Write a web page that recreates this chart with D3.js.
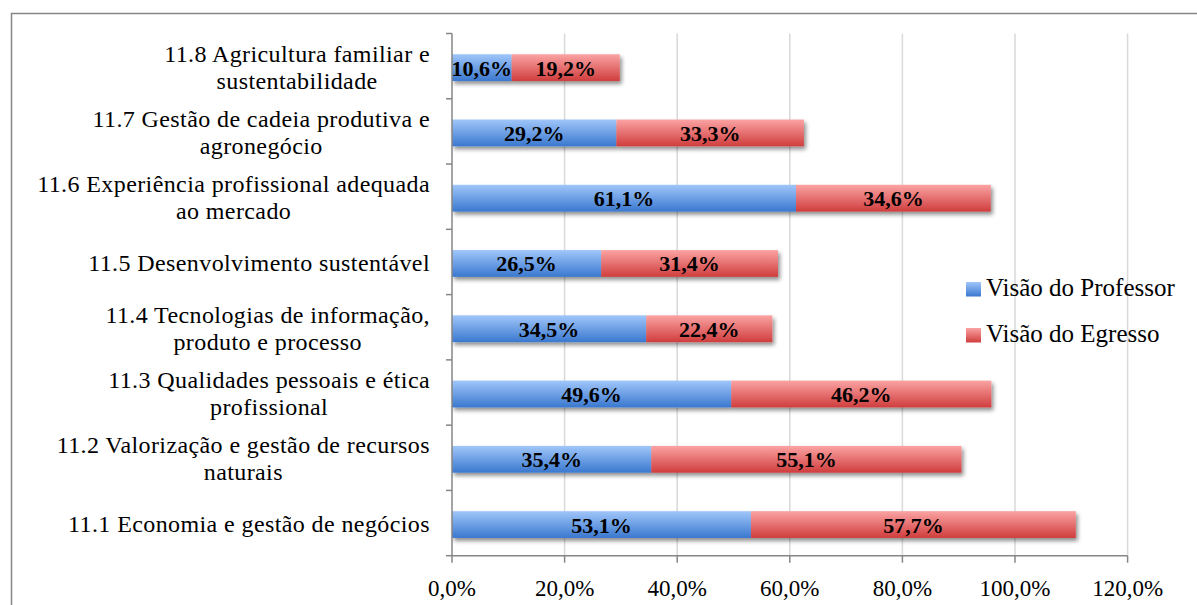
<!DOCTYPE html>
<html>
<head>
<meta charset="utf-8">
<script src="https://cdn.jsdelivr.net/npm/d3@7"></script>
<style>
  body { margin: 0; background: #fff; }
  text { font-family: "Liberation Serif", "Times New Roman", serif; fill: #000; }
  .cat-label { font-size: 24px; letter-spacing: 0.4px; }
  .val-label { font-size: 22px; font-weight: bold; }
  .tick-label { font-size: 23px; }
  .legend-label { font-size: 25px; }
</style>
</head>
<body>
<svg id="chart" width="1197" height="605"></svg>
<script>
var categories = [
  ['11.8 Agricultura familiar e', 'sustentabilidade'],
  ['11.7 Gestão de cadeia produtiva e', 'agronegócio'],
  ['11.6 Experiência profissional adequada', 'ao mercado'],
  ['11.5 Desenvolvimento sustentável'],
  ['11.4 Tecnologias de informação,', 'produto e processo'],
  ['11.3 Qualidades pessoais e ética', 'profissional'],
  ['11.2 Valorização e gestão de recursos', 'naturais'],
  ['11.1 Economia e gestão de negócios']
];
var professor = [10.6, 29.2, 61.1, 26.5, 34.5, 49.6, 35.4, 53.1];
var egresso = [19.2, 33.3, 34.6, 31.4, 22.4, 46.2, 55.1, 57.7];
var series_names = ['Visão do Professor', 'Visão do Egresso'];
var x_ticks = [0, 20, 40, 60, 80, 100, 120];

var margin = {top: 33.5, left: 452},
    plot_w = 1127.6 - 452,
    plot_h = 555.7 - 33.5;

var svg = d3.select('#chart');

// outer frame
svg.append('rect')
  .attr('x', 11.5).attr('y', 13.5)
  .attr('width', 1200).attr('height', 620)
  .attr('fill', 'none').attr('stroke', '#868686').attr('stroke-width', 1.5);

var defs = svg.append('defs');
function make_grad(id, top, bottom) {
  var gr = defs.append('linearGradient').attr('id', id)
    .attr('x1', 0).attr('y1', 0).attr('x2', 0).attr('y2', 1);
  gr.append('stop').attr('offset', '0%').attr('stop-color', top);
  gr.append('stop').attr('offset', '100%').attr('stop-color', bottom);
}
make_grad('g-blue', '#a0c6fa', '#3a78cf');
make_grad('g-red', '#fba3a3', '#d03d3d');

var shadow = defs.append('filter').attr('id', 'shadow')
  .attr('x', '-5%').attr('y', '-30%').attr('width', '115%').attr('height', '180%');
shadow.append('feGaussianBlur').attr('in', 'SourceAlpha').attr('stdDeviation', 2).attr('result', 'blur');
shadow.append('feOffset').attr('in', 'blur').attr('dx', 2).attr('dy', 3).attr('result', 'off');
shadow.append('feComponentTransfer').attr('in', 'off').attr('result', 'soft')
  .append('feFuncA').attr('type', 'linear').attr('slope', 0.45);
var merge = shadow.append('feMerge');
merge.append('feMergeNode').attr('in', 'soft');
merge.append('feMergeNode').attr('in', 'SourceGraphic');

var g = svg.append('g').attr('transform', 'translate(' + margin.left + ',' + margin.top + ')');

var x = d3.scaleLinear().domain([0, 120]).range([0, plot_w]);
var y = d3.scaleBand().domain(d3.range(categories.length)).range([0, plot_h]).paddingInner(0.59).paddingOuter(0.295);

// gridlines
g.selectAll('.grid').data(x_ticks.slice(1))
  .enter().append('line')
  .attr('x1', function(d) { return x(d); }).attr('x2', function(d) { return x(d); })
  .attr('y1', 0).attr('y2', plot_h)
  .attr('stroke', '#d9d9d9').attr('stroke-width', 1.5);

// bars
var rows = categories.map(function(c, i) { return {i: i, p: professor[i], e: egresso[i]}; });
var bar_g = g.selectAll('.bar').data(rows).enter().append('g')
  .attr('class', 'bar')
  .attr('filter', 'url(#shadow)');

bar_g.append('rect')
  .attr('x', x(0))
  .attr('y', function(d) { return y(d.i) + 1.5; })
  .attr('width', function(d) { return x(d.p) - x(0); })
  .attr('height', y.bandwidth())
  .attr('fill', 'url(#g-blue)');
bar_g.append('rect')
  .attr('x', function(d) { return x(d.p); })
  .attr('y', function(d) { return y(d.i) + 1.5; })
  .attr('width', function(d) { return x(d.p + d.e) - x(d.p); })
  .attr('height', y.bandwidth())
  .attr('fill', 'url(#g-red)');

function fmt(v) { return v.toFixed(1).replace('.', ',') + '%'; }

g.selectAll('.vp').data(rows).enter().append('text')
  .attr('class', 'val-label')
  .attr('text-anchor', 'middle')
  .attr('x', function(d) { return x(d.p / 2); })
  .attr('y', function(d) { return y(d.i) + 1.5 + y.bandwidth() / 2 + 8; })
  .text(function(d) { return fmt(d.p); });
g.selectAll('.ve').data(rows).enter().append('text')
  .attr('class', 'val-label')
  .attr('text-anchor', 'middle')
  .attr('x', function(d) { return x(d.p + d.e / 2); })
  .attr('y', function(d) { return y(d.i) + 1.5 + y.bandwidth() / 2 + 8; })
  .text(function(d) { return fmt(d.e); });

// axes lines
g.append('line').attr('x1', 0).attr('x2', 0).attr('y1', 0).attr('y2', plot_h)
  .attr('stroke', '#868686').attr('stroke-width', 1.5);
g.append('line').attr('x1', 0).attr('x2', plot_w).attr('y1', plot_h).attr('y2', plot_h)
  .attr('stroke', '#868686').attr('stroke-width', 1.5);

// y ticks at band boundaries
g.selectAll('.ytick').data(d3.range(categories.length + 1))
  .enter().append('line')
  .attr('x1', -6).attr('x2', 0)
  .attr('y1', function(d) { return d * plot_h / categories.length; })
  .attr('y2', function(d) { return d * plot_h / categories.length; })
  .attr('stroke', '#868686').attr('stroke-width', 1.5);

// x ticks
g.selectAll('.xtick').data(x_ticks).enter().append('line')
  .attr('x1', function(d) { return x(d); }).attr('x2', function(d) { return x(d); })
  .attr('y1', plot_h).attr('y2', plot_h + 7)
  .attr('stroke', '#868686').attr('stroke-width', 1.5);
g.selectAll('.xlab').data(x_ticks).enter().append('text')
  .attr('class', 'tick-label')
  .attr('text-anchor', 'middle')
  .attr('x', function(d) { return x(d); })
  .attr('y', plot_h + 40)
  .text(function(d) { return d.toFixed(1).replace('.', ',') + '%'; });

// category labels: one text per line, lines centred, block right-aligned
var label_right = -22;
categories.forEach(function(lines, i) {
  var cy = y(i) + 1.5 + y.bandwidth() / 2;
  var line_h = 27;
  var y0 = cy - (lines.length - 1) * line_h / 2 + 7.5;
  var texts = lines.map(function(l, k) {
    return g.append('text').attr('class', 'cat-label').attr('text-anchor', 'middle')
      .attr('y', y0 + k * line_h).text(l);
  });
  var maxw = d3.max(texts, function(t) { return t.node().getComputedTextLength(); });
  texts.forEach(function(t) { t.attr('x', label_right - maxw / 2); });
});

// legend
var legend = svg.append('g').attr('transform', 'translate(966,282)');
var fills = ['url(#g-blue)', 'url(#g-red)'];
series_names.forEach(function(n, i) {
  var lg = legend.append('g').attr('transform', 'translate(0,' + (i * 46) + ')');
  lg.append('rect').attr('width', 15).attr('height', 14.5).attr('fill', fills[i]);
  lg.append('text').attr('class', 'legend-label').attr('x', 20).attr('y', 14).text(n);
});
</script>
</body>
</html>
